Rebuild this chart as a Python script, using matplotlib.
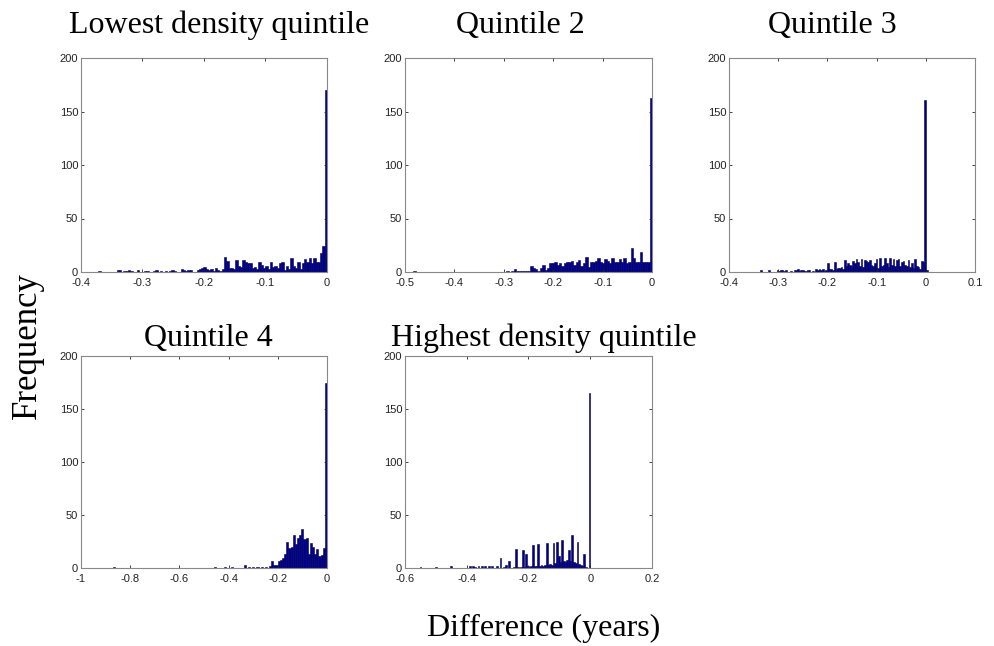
import numpy as np
import matplotlib.pyplot as plt
from matplotlib.ticker import FuncFormatter

plt.rcParams['axes.unicode_minus'] = False

# histogram counts (100 bins each)
q1_counts = [1, 0, 0, 0, 0, 0, 0, 0, 2, 2, 0, 1, 1, 2, 1, 0, 0, 2, 0, 0,
             1, 1, 0, 0, 1, 2, 0, 1, 0, 1, 0, 1, 2, 1, 0, 0, 3, 2, 1, 2,
             2, 0, 0, 2, 3, 4, 5, 3, 2, 3, 1, 4, 2, 1, 3, 14, 10, 4, 4, 3,
             11, 6, 5, 11, 9, 8, 8, 4, 5, 3, 9, 7, 4, 6, 3, 9, 5, 6, 4, 8,
             9, 2, 6, 3, 13, 6, 4, 9, 3, 8, 12, 9, 13, 8, 13, 9, 9, 18, 24, 170]
q2_counts = [1, 0, 0, 0, 0, 0, 0, 0, 0, 0, 0, 0, 0, 0, 0, 0, 0, 0, 0, 0,
             0, 0, 0, 0, 0, 0, 0, 0, 0, 0, 0, 0, 0, 0, 0, 0, 0, 0, 0, 1,
             0, 1, 3, 1, 1, 1, 1, 1, 1, 6, 4, 3, 1, 4, 7, 2, 4, 8, 8, 9,
             7, 8, 6, 8, 9, 9, 10, 7, 9, 11, 6, 8, 14, 5, 9, 9, 10, 13, 9, 8,
             12, 10, 8, 13, 9, 9, 12, 9, 13, 8, 9, 22, 13, 9, 9, 19, 9, 9, 9, 163]
q3_counts = [2, 0, 0, 0, 0, 2, 0, 0, 0, 0, 2, 1, 2, 2, 1, 2, 0, 0, 1, 0,
             2, 2, 3, 1, 2, 2, 1, 1, 2, 2, 0, 1, 0, 3, 2, 3, 2, 3, 1, 2,
             8, 3, 3, 2, 9, 3, 4, 4, 5, 3, 11, 6, 8, 7, 6, 10, 8, 12, 9, 6,
             12, 5, 11, 10, 9, 11, 7, 6, 8, 12, 4, 13, 6, 7, 13, 8, 5, 13, 7, 12,
             6, 11, 12, 6, 9, 10, 7, 6, 11, 5, 8, 4, 12, 6, 5, 3, 10, 9, 161, 2]
q4_counts = [1, 0, 0, 0, 0, 0, 0, 0, 0, 0, 0, 0, 0, 0, 0, 0, 0, 0, 0, 0,
             0, 0, 0, 0, 0, 0, 0, 0, 0, 0, 0, 0, 0, 0, 0, 0, 0, 0, 0, 0,
             0, 0, 0, 0, 0, 0, 0, 1, 0, 0, 0, 0, 1, 0, 0, 1, 0, 0, 0, 0,
             0, 3, 0, 1, 0, 1, 0, 1, 0, 1, 0, 1, 0, 2, 7, 3, 3, 7, 8, 9,
             13, 25, 19, 20, 31, 23, 28, 31, 37, 27, 28, 13, 24, 20, 13, 18, 11, 12, 19, 175]
q5_counts = [1, 0, 0, 0, 0, 0, 0, 0, 0, 1, 0, 0, 0, 0, 0, 0, 0, 0, 2, 0,
             0, 0, 0, 0, 0, 0, 0, 0, 0, 2, 0, 2, 1, 0, 2, 0, 2, 0, 2, 0,
             2, 0, 2, 0, 0, 2, 0, 9, 0, 1, 3, 0, 7, 0, 0, 1, 18, 1, 0, 1,
             17, 1, 13, 2, 1, 2, 22, 2, 2, 23, 2, 3, 2, 3, 24, 3, 4, 3, 24, 5,
             25, 11, 6, 26, 7, 6, 8, 17, 7, 31, 6, 5, 25, 4, 3, 2, 13, 1, 0, 165]

# data range of each histogram (min, max)
q1_range = (-0.372, 0.0)
q2_range = (-0.483, 0.0)
q3_range = (-0.337, 0.0041)
q4_range = (-0.87, 0.0)
q5_range = (-0.553, 0.0)

titles = ['Lowest density quintile', 'Quintile 2', 'Quintile 3',
          'Quintile 4', 'Highest density quintile']
xlims = [(-0.4, 0), (-0.5, 0), (-0.4, 0.1), (-1, 0), (-0.6, 0.2)]
xsteps = [0.1, 0.1, 0.1, 0.2, 0.2]

panels = [(q1_counts, q1_range), (q2_counts, q2_range), (q3_counts, q3_range),
          (q4_counts, q4_range), (q5_counts, q5_range)]

W, H = 995, 646
fig = plt.figure(figsize=(W / 100, H / 100), dpi=100)

# axes boxes in pixels: left, top, right, bottom
boxes = [(81, 58, 327, 272), (405, 58, 652, 272), (729, 58, 975, 272),
         (81, 356, 327, 568), (405, 356, 652, 568)]
title_pos = [(219, 25), (520, 25), (832, 25), (208, 338), (544, 338)]

serif = ['Liberation Serif', 'DejaVu Serif']
sans = ['Liberation Sans', 'DejaVu Sans']
bar_color = '#00008C'


def fmt(v, pos):
    if abs(v) < 1e-9:
        return '0'
    return '%g' % round(v, 2)


for i, ((counts, (lo, hi)), box) in enumerate(zip(panels, boxes)):
    l, t, r, b = box
    ax = fig.add_axes([l / W, 1 - b / H, (r - l) / W, (b - t) / H])
    counts = np.array(counts)
    edges = np.linspace(lo, hi, len(counts) + 1)
    centers = (edges[:-1] + edges[1:]) / 2
    width = edges[1] - edges[0]
    ax.bar(centers, counts, width=width, color=bar_color,
           edgecolor='#000055', linewidth=0.4)
    x0, x1 = xlims[i]
    ax.set_xlim(x0, x1)
    ax.set_ylim(0, 200)
    ax.set_xticks(np.arange(x0, x1 + 1e-9, xsteps[i]))
    ax.set_yticks([0, 50, 100, 150, 200])
    ax.xaxis.set_major_formatter(FuncFormatter(fmt))
    ax.tick_params(direction='in', length=2.5, width=0.6, top=True, right=True,
                   labelsize=8, colors='#222222')
    ax.tick_params(axis='x', pad=4)
    ax.tick_params(axis='y', pad=2)
    for lab in ax.get_xticklabels() + ax.get_yticklabels():
        lab.set_family(sans)
    for sp in ax.spines.values():
        sp.set_color('#888888')
        sp.set_linewidth(0.8)
    fig.text(title_pos[i][0] / W, 1 - title_pos[i][1] / H, titles[i],
             family=serif, fontsize=23, ha='center', va='center')

fig.text(27 / W, 1 - 346 / H, 'Frequency', family=serif, fontsize=25,
         rotation=90, ha='center', va='center')
fig.text(544 / W, 1 - 628 / H, 'Difference (years)', family=serif,
         fontsize=23, ha='center', va='center')

fig.savefig('out.png', dpi=100)
